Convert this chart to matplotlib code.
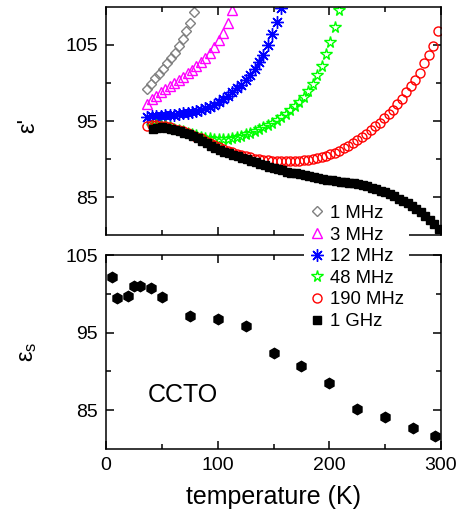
import numpy as np
import matplotlib
matplotlib.use('Agg')
import matplotlib.pyplot as plt
from matplotlib.ticker import FixedLocator

plt.rcParams['font.family'] = ['Liberation Sans', 'DejaVu Sans']
plt.rcParams['mathtext.fontset'] = 'custom'
plt.rcParams['mathtext.rm'] = 'Liberation Sans'
plt.rcParams['mathtext.it'] = 'Liberation Sans'

# eps' vs temperature, one series per frequency (temperatures in K)
t_1mhz = [37, 40.5, 44, 47.5, 51, 54.5, 58, 61.5, 65, 68.5, 72, 75.5, 78.5]
eps_1mhz = [99.2, 99.9, 100.6, 101.2, 101.9, 102.6, 103.3, 104.0, 104.9, 105.8, 106.8, 107.9, 109.3]

t_3mhz = np.arange(37, 114, 4)
eps_3mhz = [97.3, 97.85, 98.35, 98.8, 99.25, 99.65, 100.05, 100.45, 100.85, 101.3,
            101.75, 102.2, 102.75, 103.35, 104.0, 104.75, 105.6, 106.6, 107.9, 109.6]

t_12mhz = np.arange(37, 158, 4)
eps_12mhz = [95.55, 95.6, 95.65, 95.7, 95.75, 95.8, 95.85, 95.9, 96.0, 96.1,
             96.2, 96.35, 96.5, 96.7, 96.9, 97.15, 97.45, 97.85, 98.3, 98.8,
             99.3, 99.8, 100.4, 101.05, 101.8, 102.7, 103.7, 105.0, 106.4, 108.0, 109.9]

t_48mhz = np.arange(41, 210, 4)
eps_48mhz = [94.4, 94.45, 94.4, 94.3, 94.15, 94.0, 93.85, 93.65, 93.45, 93.25,
             93.1, 92.95, 92.8, 92.7, 92.65, 92.6, 92.6, 92.65, 92.75, 92.9,
             93.05, 93.25, 93.45, 93.7, 93.95, 94.2, 94.5, 94.8, 95.15, 95.5,
             95.95, 96.45, 96.95, 97.5, 98.15, 98.9, 99.9, 101.0, 102.25, 103.75,
             105.45, 107.4, 109.6]

t_190mhz = np.arange(37, 298, 4)
eps_190mhz = [94.3, 94.45, 94.45, 94.4, 94.3, 94.15, 94.0, 93.85, 93.65, 93.45,
              93.2, 92.95, 92.7, 92.4, 92.1, 91.85, 91.6, 91.35, 91.1, 90.9,
              90.7, 90.5, 90.35, 90.2, 90.05, 89.95, 89.9, 89.85, 89.8, 89.78,
              89.77, 89.77, 89.78, 89.79, 89.8, 89.85, 89.92, 90.0, 90.1, 90.23,
              90.42, 90.62, 90.85, 91.1, 91.4, 91.72, 92.05, 92.45, 92.85, 93.35,
              93.8, 94.3, 94.8, 95.35, 95.95, 96.5, 97.25, 97.95, 98.8, 99.65,
              100.4, 101.3, 102.6, 103.7, 104.9, 106.9]

t_1ghz = np.arange(42, 299, 4)
eps_1ghz = [93.95, 94.1, 94.15, 94.1, 94.0, 93.85, 93.65, 93.45, 93.25, 93.0,
            92.7, 92.4, 92.05, 91.75, 91.45, 91.2, 90.95, 90.75, 90.55, 90.35,
            90.15, 89.95, 89.75, 89.55, 89.35, 89.15, 88.95, 88.8, 88.65, 88.5,
            88.35, 88.2, 88.1, 88.0, 87.9, 87.75, 87.6, 87.5, 87.4, 87.3,
            87.2, 87.1, 87.0, 86.95, 86.85, 86.8, 86.7, 86.55, 86.4, 86.25,
            86.05, 85.85, 85.65, 85.4, 85.1, 84.8, 84.5, 84.15, 83.8, 83.4,
            83.0, 82.5, 82.0, 81.4, 80.8]

# static dielectric constant eps_s
t_static = [5, 10, 20, 25, 30, 40, 50, 75, 100, 125, 150, 175, 200, 225, 250, 275, 295]
eps_static = [102.2, 99.4, 99.7, 101.0, 101.0, 100.8, 99.6, 97.2, 96.7, 95.8,
              92.4, 90.7, 88.5, 85.2, 84.1, 82.7, 81.7]

fig = plt.figure(figsize=(4.63, 5.18), dpi=100)
ax1 = fig.add_axes([0.229, 0.5463, 0.7235, 0.4402])
ax2 = fig.add_axes([0.229, 0.1332, 0.7235, 0.3745])
# top panel drawn last so its legend can sit over the lower frame
ax1.set_zorder(2)

ax1.plot(t_1mhz, eps_1mhz, 'D', ms=5, mfc='none', mec='#808080', mew=1.0, label='1 MHz')
ax1.plot(t_3mhz, eps_3mhz, '^', ms=7.5, mfc='none', mec='#ff00ff', mew=1.0, label='3 MHz')
ax1.plot(t_12mhz, eps_12mhz, marker=(8, 2, 0), ls='none', ms=9, mec='#0000ff', mew=1.0, label='12 MHz')
ax1.plot(t_48mhz, eps_48mhz, '*', ms=8.5, mfc='none', mec='#00ff00', mew=1.0, label='48 MHz')
ax1.plot(t_190mhz, eps_190mhz, 'o', ms=6.5, mfc='none', mec='#ff0000', mew=1.0, label='190 MHz')
ax1.plot(t_1ghz, eps_1ghz, 's', ms=6.3, color='black', label='1 GHz', zorder=6)

ax2.plot(t_static, eps_static, 'h', ms=7.5, color='black')
ax2.text(37, 86.1, 'CCTO', fontsize=18, va='baseline')

for ax in (ax1, ax2):
    ax.set_xlim(0, 300)
    ax.xaxis.set_major_locator(FixedLocator([0, 100, 200, 300]))
    ax.xaxis.set_minor_locator(FixedLocator([50, 150, 250]))
    ax.tick_params(which='both', direction='in', top=True, right=True, width=1.1, labelsize=14)
    ax.tick_params(which='major', length=6, pad=6)
    ax.tick_params(which='minor', length=3.5)
    for s in ax.spines.values():
        s.set_linewidth(1.1)

ax1.set_ylim(80, 110)
ax1.yaxis.set_major_locator(FixedLocator([85, 95, 105]))
ax1.yaxis.set_minor_locator(FixedLocator([90, 100]))
ax1.tick_params(labelbottom=False)
ax1.set_ylabel("ε'", fontsize=17)
ax1.yaxis.set_label_coords(-0.2, 0.48)

ax2.set_ylim(80, 105)
ax2.yaxis.set_major_locator(FixedLocator([85, 95, 105]))
ax2.yaxis.set_minor_locator(FixedLocator([90, 100]))
ax2.set_ylabel(r'$ε_s$', fontsize=17)
ax2.yaxis.set_label_coords(-0.2, 0.5)
ax2.set_xlabel('temperature (K)', fontsize=18, labelpad=8)

leg = ax1.legend(loc='center', bbox_to_anchor=(0.770, 0.4836), bbox_transform=fig.transFigure,
                 fontsize=13.3, frameon=True, fancybox=False, framealpha=1, facecolor='white',
                 edgecolor='none', handlelength=0.8, handletextpad=0.3,
                 labelspacing=0.25, borderpad=0.3, borderaxespad=0)
leg.set_zorder(5)

fig.savefig('out.png', dpi=100)
